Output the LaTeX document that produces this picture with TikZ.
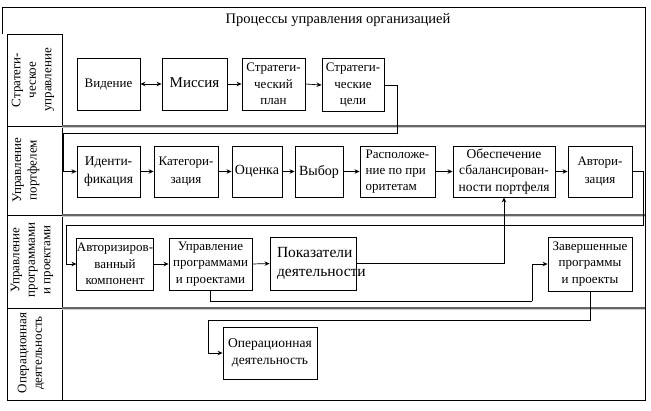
\documentclass[tikz,border=0pt]{standalone}
\usepackage{fontspec}
\setmainfont{Liberation Serif}
\usetikzlibrary{arrows.meta}
\begin{document}
\begin{tikzpicture}[x=1pt,y=-1pt,
  box/.style={draw, line width=0.9pt, inner sep=0pt, align=center},
  lab/.style={rotate=90, align=center, inner sep=0pt, font=\fontsize{13}{15.5}\selectfont},
  arr/.style={-{Stealth[length=5pt,width=4.5pt]}, line width=0.7pt},
  conn/.style={line width=0.8pt},
  lane/.style={line width=1.3pt, black!60},
  laneshadow/.style={line width=1pt, black!20}]
\useasboundingbox (0,0) rectangle (651,410);
% frame
\draw[line width=1pt] (2,34) -- (2,7) -- (645,7) -- (645,400) -- (7,400);
\draw[line width=1pt] (7,34) rectangle (62,400);
\foreach \yy in {126,215,308}{
  \draw[laneshadow] (62,\yy+1.6) -- (645,\yy+1.6);
  \draw[lane] (62,\yy) -- (645,\yy);
  \draw[line width=1pt] (7,\yy) -- (62,\yy);
}
\node[font=\fontsize{14.5}{17}\selectfont] (title) at (338,20) {Процессы управления организацией};
% lane labels
\node[lab] (l1) at (33,80) {Стратеги-\\ческое\\управление};
\node[lab] (l2) at (26,170) {Управление\\портфелем};
\node[lab] (l3) at (32,260) {Управление\\программами\\и проектами};
\node[lab] (l4) at (31,353) {Операционная\\деятельность};
% strategic lane
\node[box, minimum width=63, minimum height=52, font=\fontsize{13}{16}\selectfont] (vis) at (108.5,84) {Видение};
\node[box, minimum width=65, minimum height=52, font=\fontsize{15}{17}\selectfont] (mis) at (194.5,84) {\raisebox{3pt}{Миссия}};
\node[box, minimum width=63, minimum height=52, font=\fontsize{13}{16.5}\selectfont] (plan) at (273.5,84) {Стратеги-\\ческий\\план};
\node[box, minimum width=62, minimum height=53, font=\fontsize{13}{16.5}\selectfont] (goal) at (353,85) {Стратеги-\\ческие\\цели};
% portfolio lane
\node[box, minimum width=63, minimum height=51, font=\fontsize{13.5}{18}\selectfont] (id) at (108.5,171.5) {Иденти-\\фикация};
\node[box, minimum width=64, minimum height=51, font=\fontsize{13}{18}\selectfont] (cat) at (186,171.5) {Категори-\\зация};
\node[box, minimum width=50, minimum height=51, font=\fontsize{14}{17}\selectfont] (eval) at (257,171.5) {Оценка};
\node[box, minimum width=48, minimum height=51, font=\fontsize{14}{17}\selectfont] (sel) at (319,171.5) {Выбор};
\node[box, minimum width=75, minimum height=51, font=\fontsize{13}{16}\selectfont, align=left] (prio) at (397.5,171.5) {Расположе-\\ние по при\\оритетам};
\node[box, minimum width=102, minimum height=51, font=\fontsize{13.5}{16.5}\selectfont] (bal) at (504,171.5) {Обеспечение\\сбалансирован-\\ности портфеля};
\node[box, minimum width=64, minimum height=51, font=\fontsize{13}{18}\selectfont] (auth) at (600,171.5) {Автори-\\зация};
% programme lane
\node[box, minimum width=74, minimum height=52, font=\fontsize{13}{16.5}\selectfont] (ac) at (115,264) {Авторизиров-\\ванный\\компонент};
\node[box, minimum width=83, minimum height=52, font=\fontsize{13}{16.5}\selectfont] (upr) at (210.5,264) {Управление\\программами\\и проектами};
\node[box, minimum width=86, minimum height=53, text width=72pt, inner xsep=7pt, font=\fontsize{15.5}{19}\selectfont] (pok) at (313,263.5) {Показатели\\деятельности};
\node[box, minimum width=84, minimum height=54, font=\fontsize{13}{16.5}\selectfont] (done) at (590,264) {Завершенные\\программы\\и проекты};
% operational lane
\node[box, minimum width=94, minimum height=52, font=\fontsize{13.5}{17}\selectfont] (op) at (270,353) {Операционная\\деятельность};
% coordinates for routed connectors
\coordinate (g1) at (397,133);
\coordinate (g2) at (63,133);
\coordinate (a1) at (643,225);
\coordinate (a2) at (66,225);
\coordinate (k1) at (532,301);
\coordinate (d1) at (208,320);
% strategic arrows
\draw[arr, {Stealth[length=5pt,width=4.5pt]}-{Stealth[length=5pt,width=4.5pt]}] (vis.east) -- (mis.west);
\draw[arr] (mis.east) -- (plan.west);
\draw[arr] (plan.east) -- (goal.west);
\draw[conn] (goal.east) -| (g1) -- (g2);
\draw[arr, conn] (g2) |- (id.west);
% portfolio arrows
\draw[arr] (id.east) -- (cat.west);
\draw[arr] (cat.east) -- (eval.west);
\draw[arr] (eval.east) -- (sel.west);
\draw[arr] (sel.east) -- (prio.west);
\draw[arr] (prio.east) -- (bal.west);
\draw[arr] (bal.east) -- (auth.west);
\draw[conn] (auth.east) -| (a1) -- (a2);
\draw[arr, conn] (a2) |- (ac.west);
% programme arrows
\draw[arr] (ac.east) -- (upr.west);
\draw[arr] (upr.east) -- (pok.west);
\draw[arr, conn] (pok.east) -| (bal.south);
\draw[conn] (upr.south) |- (k1);
\draw[arr, conn] (k1) |- (done.west);
\draw[conn] (done.south) |- (d1);
\draw[arr, conn] (d1) |- (op.west);
\end{tikzpicture}
\end{document}
